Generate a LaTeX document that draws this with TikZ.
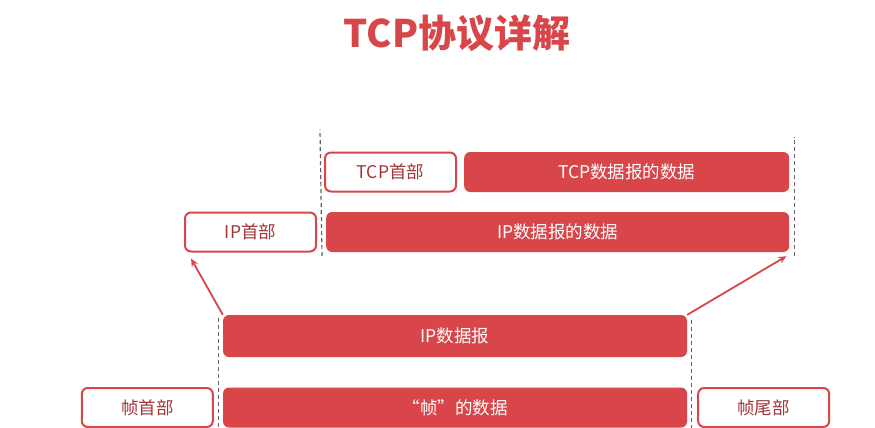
\documentclass[tikz,border=0pt]{standalone}
\usepackage{fontspec}
\setmainfont{Noto Sans CJK SC}
\usepackage{tikz}
\usetikzlibrary{positioning,calc,arrows.meta}
\definecolor{tcpred}{RGB}{216,70,74}
\definecolor{dashgray}{RGB}{110,90,100}

\begin{document}
\begin{tikzpicture}[x=1pt, y=-1pt, node distance=9pt,
        hdr/.style={draw=tcpred, line width=2pt, fill=white, rounded corners=6pt, minimum width=131pt, minimum height=39pt, inner sep=0pt, text=tcpred!75!black, font=\fontsize{17.5}{20}\selectfont},
        dat/.style={fill=tcpred, rounded corners=6pt, minimum height=40pt, inner sep=0pt, text=white, font=\fontsize{17.5}{20}\selectfont},
        guide/.style={draw=dashgray, line width=1.2pt, dash pattern=on 4pt off 3pt},
        link/.style={draw=tcpred, line width=1.8pt, -{Stealth[length=8pt,width=7pt]}}
    ]
        \useasboundingbox (0,0) rectangle (875,428);
        \node [text=tcpred, font=\fontsize{38}{42}\selectfont\bfseries] (title) at (457,33) {TCP协议详解};

        % TCP and IP layers
        \node [hdr] (tcph) at (390.5,172) {TCP首部};
        \node [dat, minimum width=325pt, right=7pt of tcph] (tcpd) {TCP数据报的数据};
        \node [hdr] (iph) at (250.5,232) {IP首部};
        \node [dat, minimum width=463pt, right=9pt of iph] (ipd) {IP数据报的数据};

        % frame layer
        \node [dat, minimum width=464pt, minimum height=42pt] (ipdg) at (455,336) {IP数据报};
        \node [dat, minimum width=464pt] (fd) at (455,407.5) {“帧”的数据};
        \node [hdr, left=9pt of fd] (fh) {帧首部};
        \node [hdr, right=10pt of fd] (ft) {帧尾部};

        % boundaries
        \draw [guide] ($(ipd.south west)+(-4,4)$) -- ($(tcph.north west)+(-4,-22)$);
        \draw [guide] ($(ipd.south east)+(5,4)$) -- ($(tcpd.north east)+(5,-15)$);
        \draw [guide] ($(ipdg.north west)+(-4,3)$) -- ($(fd.south west)+(-4,2)$);
        \draw [guide] ($(ipdg.north east)+(4,5)$) -- ($(fd.south east)+(4,2)$);

        \draw [link] (ipdg.north west) -- ($(iph.south west)+(7,6)$);
        \draw [link] (ipdg.north east) -- ($(ipd.south east)+(-3,4)$);
    \end{tikzpicture}
\end{document}
